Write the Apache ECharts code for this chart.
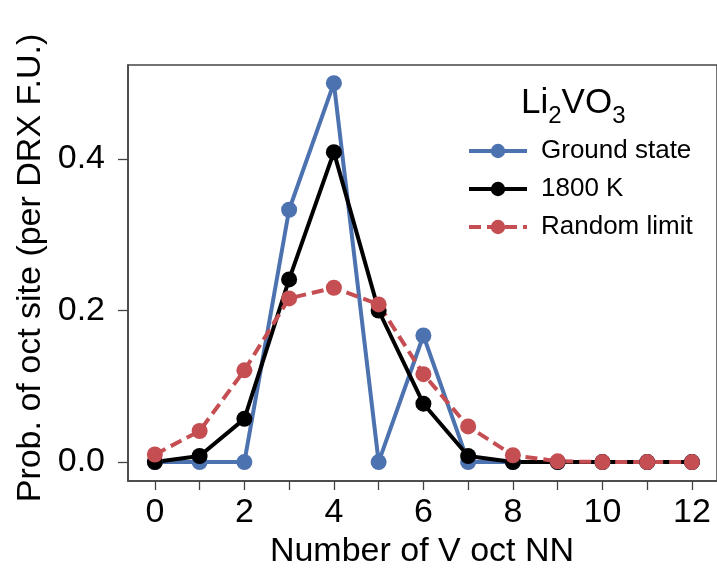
<!DOCTYPE html>
<html>
<head>
<meta charset="utf-8">
<script src="https://cdn.jsdelivr.net/npm/echarts@6/dist/echarts.min.js"></script>
<style>
  html, body { margin: 0; padding: 0; background: #fff; }
  #chart { width: 717px; height: 571px; }
</style>
</head>
<body>
<div id="chart"></div>
<script>
// number of V oct nearest neighbours
const nn = [0, 1, 2, 3, 4, 5, 6, 7, 8, 9, 10, 11, 12];
const groundState = [0, 0, 0, 0.333, 0.5, 0, 0.167, 0, 0, 0, 0, 0, 0];
const t1800 = [0, 0.008, 0.057, 0.241, 0.409, 0.2, 0.077, 0.008, 0, 0, 0, 0, 0];
const randomLimit = [0.01, 0.041, 0.121, 0.216, 0.23, 0.208, 0.116, 0.047, 0.009, 0.001, 0, 0, 0];
const xTicks = [0, 1, 2, 3, 4, 5, 6, 7, 8, 9, 10, 11, 12];
const xLabels = [0, 2, 4, 6, 8, 10, 12];
const yTicks = [0, 0.2, 0.4];

const font = "Liberation Sans, Arial, sans-serif";
const pairs = (ys) => nn.map((x, i) => [x, ys[i]]);

const chart = echarts.init(document.getElementById("chart"));
const lineSeries = (name, data, color, type) => ({
  name,
  type: "line",
  data: pairs(data),
  symbol: "circle",
  symbolSize: 16,
  itemStyle: { color },
  lineStyle: { color, width: 4, type },
  emphasis: { disabled: true },
});

const axisCommon = {
  type: "value",
  axisLine: { show: true, onZero: false, lineStyle: { color: "#444", width: 1.5 } },
  splitLine: { show: false },
};

chart.setOption({
  animation: false,
  grid: {
    left: 128,
    top: 65,
    right: -2,
    bottom: 90,
    show: true,
    borderColor: "#444",
    borderWidth: 1.5,
  },
  xAxis: Object.assign({}, axisCommon, {
    min: -0.6,
    max: 12.56,
    axisTick: {
      show: true,
      length: 9,
      lineStyle: { color: "#444", width: 1.3 },
      customValues: xTicks,
    },
    axisLabel: {
      fontFamily: font,
      fontSize: 34,
      color: "#000",
      margin: 15,
      customValues: xLabels,
    },
  }),
  yAxis: Object.assign({}, axisCommon, {
    min: -0.025,
    max: 0.524,
    axisTick: {
      show: true,
      length: 10,
      lineStyle: { color: "#444", width: 1.3 },
      customValues: yTicks,
    },
    axisLabel: {
      fontFamily: font,
      fontSize: 34,
      color: "#000",
      margin: 23,
      customValues: yTicks,
      formatter: (v) => v.toFixed(1),
    },
  }),
  legend: {
    left: 462,
    top: 133,
    orient: "vertical",
    itemWidth: 58,
    itemHeight: 18,
    itemGap: 12,
    lineStyle: { width: 4 },
    textStyle: { fontFamily: font, fontSize: 26, color: "#000", padding: [0, 0, 0, 9] },
    data: ["Ground state", "1800 K", "Random limit"],
  },
  graphic: [
    {
      type: "text",
      left: 521,
      top: 86,
      style: {
        text: "{b|Li}{s|2}{b|VO}{s|3}",
        rich: {
          b: { fontFamily: font, fontSize: 35, fill: "#000", verticalAlign: "bottom" },
          s: { fontFamily: font, fontSize: 24, fill: "#000", verticalAlign: "bottom", padding: [0, 0, -7, 0] },
        },
      },
    },
    {
      type: "text",
      x: 422,
      y: 552,
      style: {
        text: "Number of V oct NN",
        fontFamily: font,
        fontSize: 34,
        fill: "#000",
        align: "center",
        verticalAlign: "middle",
      },
    },
    {
      type: "text",
      x: 31,
      y: 268,
      rotation: Math.PI / 2,
      style: {
        text: "Prob. of oct site (per DRX F.U.)",
        fontFamily: font,
        fontSize: 34,
        fill: "#000",
        align: "center",
        verticalAlign: "middle",
      },
    },
  ],
  series: [
    lineSeries("Ground state", groundState, "#4C72B0", "solid"),
    lineSeries("1800 K", t1800, "#000000", "solid"),
    lineSeries("Random limit", randomLimit, "#C44E52", [12, 6]),
  ],
});
</script>
</body>
</html>
